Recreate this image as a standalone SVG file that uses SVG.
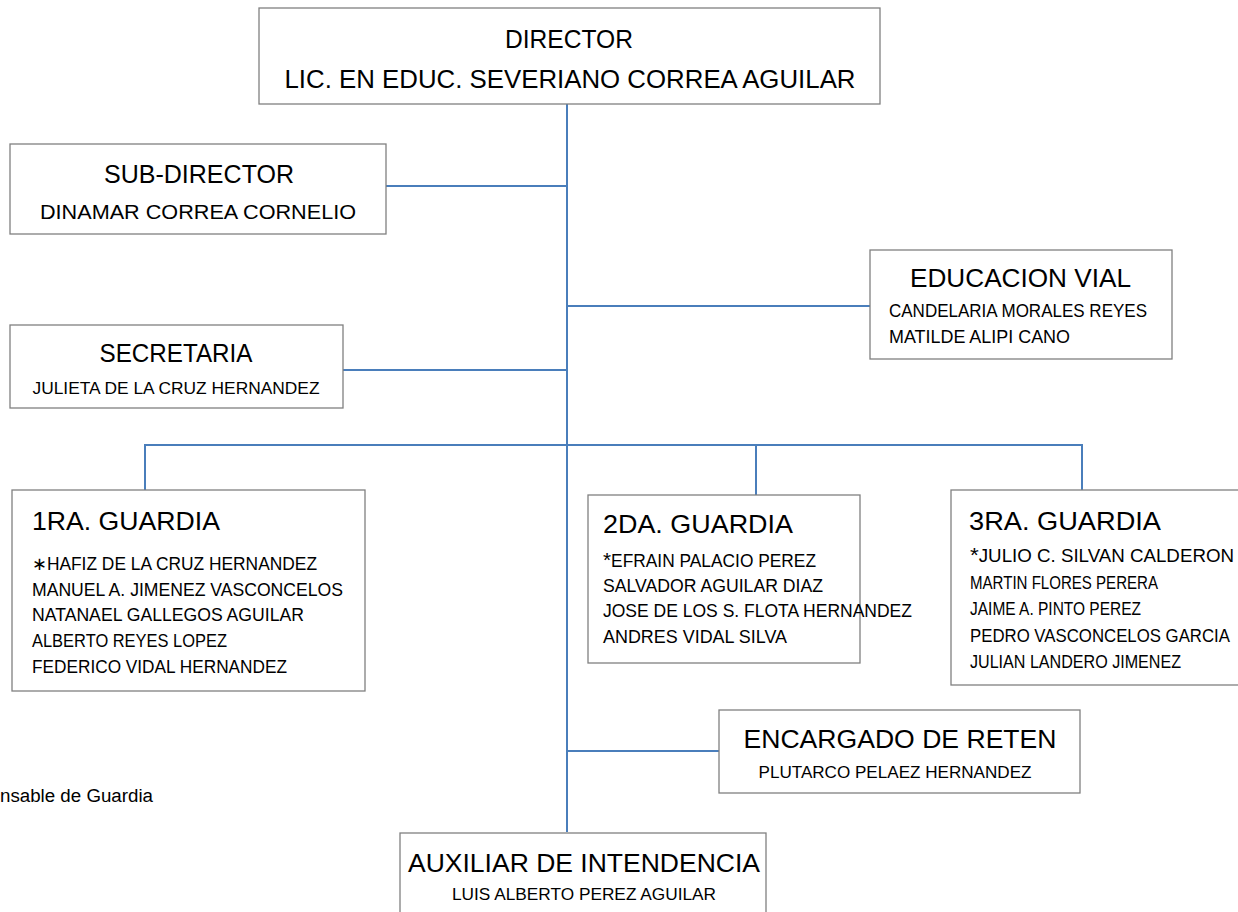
<svg xmlns="http://www.w3.org/2000/svg" width="1238" height="912" viewBox="0 0 1238 912">
<style>
.box{fill:#fff;stroke:#808080;stroke-width:1.3}
.ln{stroke:#4a7ebb;stroke-width:2;fill:none}
text{font-family:"Liberation Sans","Open Sans",sans-serif;fill:#000}
.t{font-size:25px}
.s{font-size:20px}
.n{font-size:17.5px}
.m{text-anchor:middle}
</style>
<rect width="1238" height="912" fill="#fff"/>
<g id="connectors">
<line class="ln" x1="567" y1="104" x2="567" y2="832"/>
<line class="ln" x1="386" y1="186" x2="567" y2="186"/>
<line class="ln" x1="567" y1="306" x2="870" y2="306"/>
<line class="ln" x1="343" y1="370" x2="567" y2="370"/>
<line class="ln" x1="145" y1="445" x2="1082" y2="445"/>
<line class="ln" x1="145" y1="444" x2="145" y2="490"/>
<line class="ln" x1="756" y1="445" x2="756" y2="495"/>
<line class="ln" x1="1082" y1="444" x2="1082" y2="490"/>
<line class="ln" x1="567" y1="751" x2="719" y2="751"/>
</g>
<g id="director">
<rect class="box" x="259" y="8" width="621" height="96"/>
<text class="t m" x="569" y="48" textLength="128" lengthAdjust="spacingAndGlyphs">DIRECTOR</text>
<text class="t m" x="570" y="88" textLength="571" lengthAdjust="spacingAndGlyphs">LIC. EN EDUC. SEVERIANO CORREA AGUILAR</text>
</g>
<g id="subdirector">
<rect class="box" x="10" y="144" width="376" height="90"/>
<text class="t m" x="199" y="183" textLength="190" lengthAdjust="spacingAndGlyphs">SUB-DIRECTOR</text>
<text class="s m" x="198" y="219" textLength="316" lengthAdjust="spacingAndGlyphs">DINAMAR CORREA CORNELIO</text>
</g>
<g id="educacion-vial">
<rect class="box" x="870" y="250" width="302" height="109"/>
<text class="t" x="910" y="287" textLength="221" lengthAdjust="spacingAndGlyphs">EDUCACION VIAL</text>
<text class="n" x="889" y="317" textLength="258" lengthAdjust="spacingAndGlyphs">CANDELARIA MORALES REYES</text>
<text class="n" x="889" y="343" textLength="181" lengthAdjust="spacingAndGlyphs">MATILDE ALIPI CANO</text>
</g>
<g id="secretaria">
<rect class="box" x="10" y="325" width="333" height="83"/>
<text class="t m" x="176" y="362" textLength="153" lengthAdjust="spacingAndGlyphs">SECRETARIA</text>
<text class="n m" x="176" y="394" textLength="287" lengthAdjust="spacingAndGlyphs" style="font-size:17px">JULIETA DE LA CRUZ HERNANDEZ</text>
</g>
<g id="guardia-1">
<rect class="box" x="12" y="490" width="353" height="201"/>
<text class="t" x="32" y="530" textLength="188" lengthAdjust="spacingAndGlyphs" style="font-size:26px">1RA. GUARDIA</text>
<text class="n" x="32" y="570" textLength="285" lengthAdjust="spacingAndGlyphs">∗HAFIZ DE LA CRUZ HERNANDEZ</text>
<text class="n" x="32" y="596" textLength="311" lengthAdjust="spacingAndGlyphs">MANUEL A. JIMENEZ VASCONCELOS</text>
<text class="n" x="32" y="621" textLength="272" lengthAdjust="spacingAndGlyphs">NATANAEL GALLEGOS AGUILAR</text>
<text class="n" x="32" y="647" textLength="195" lengthAdjust="spacingAndGlyphs">ALBERTO REYES LOPEZ</text>
<text class="n" x="32" y="673" textLength="255" lengthAdjust="spacingAndGlyphs">FEDERICO VIDAL HERNANDEZ</text>
</g>
<g id="guardia-2">
<rect class="box" x="588" y="495" width="272" height="168"/>
<text class="t" x="603" y="533" textLength="190" lengthAdjust="spacingAndGlyphs" style="font-size:26px">2DA. GUARDIA</text>
<text class="n" x="603" y="567" textLength="213" lengthAdjust="spacingAndGlyphs"><tspan style="font-size:21px">*</tspan>EFRAIN PALACIO PEREZ</text>
<text class="n" x="603" y="592" textLength="220" lengthAdjust="spacingAndGlyphs">SALVADOR AGUILAR DIAZ</text>
<text class="n" x="603" y="617" textLength="309" lengthAdjust="spacingAndGlyphs">JOSE DE LOS S. FLOTA  HERNANDEZ</text>
<text class="n" x="603" y="643" textLength="184" lengthAdjust="spacingAndGlyphs">ANDRES VIDAL SILVA</text>
</g>
<g id="guardia-3">
<rect class="box" x="951" y="490" width="292" height="195"/>
<text class="t" x="969" y="530" textLength="192" lengthAdjust="spacingAndGlyphs" style="font-size:26px">3RA. GUARDIA</text>
<text class="n" x="970" y="562" textLength="264" lengthAdjust="spacingAndGlyphs"><tspan style="font-size:21px">*</tspan>JULIO C. SILVAN CALDERON</text>
<text class="n" x="970" y="589" textLength="188" lengthAdjust="spacingAndGlyphs">MARTIN FLORES PERERA</text>
<text class="n" x="970" y="615" textLength="171" lengthAdjust="spacingAndGlyphs">JAIME A. PINTO PEREZ</text>
<text class="n" x="970" y="642" textLength="260" lengthAdjust="spacingAndGlyphs">PEDRO VASCONCELOS GARCIA</text>
<text class="n" x="970" y="668" textLength="211" lengthAdjust="spacingAndGlyphs">JULIAN LANDERO JIMENEZ</text>
</g>
<g id="encargado-reten">
<rect class="box" x="719" y="710" width="361" height="83"/>
<text class="t m" x="900" y="748" textLength="313" lengthAdjust="spacingAndGlyphs">ENCARGADO DE RETEN</text>
<text class="n m" x="895" y="778" textLength="273" lengthAdjust="spacingAndGlyphs" style="font-size:17px">PLUTARCO PELAEZ HERNANDEZ</text>
</g>
<g id="auxiliar-intendencia">
<rect class="box" x="400" y="833" width="366" height="90"/>
<text class="t m" x="584" y="872" textLength="352" lengthAdjust="spacingAndGlyphs">AUXILIAR DE INTENDENCIA</text>
<text class="n m" x="584" y="900" textLength="264" lengthAdjust="spacingAndGlyphs" style="font-size:17px">LUIS ALBERTO PEREZ AGUILAR</text>
</g>
<g id="nota">
<text x="0" y="802" style="font-size:18px" textLength="153" lengthAdjust="spacingAndGlyphs">nsable de Guardia</text>
</g>
</svg>
